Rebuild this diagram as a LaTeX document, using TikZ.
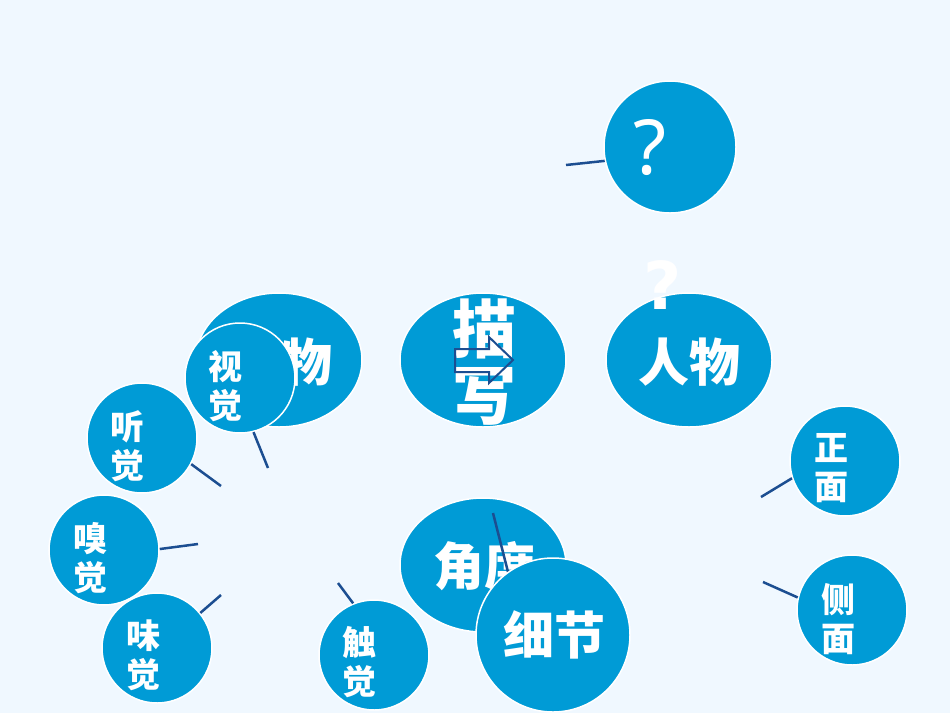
\documentclass[tikz,border=0pt]{standalone}
\usepackage{fontspec}
\usetikzlibrary{shapes.geometric}
\newfontfamily\cjk{Noto Sans CJK SC}
\newfontfamily\qfont{Noto Sans}
\newfontfamily\qbfont{DejaVu Sans}
\definecolor{bgc}{RGB}{240,248,255}
\definecolor{nodeblue}{RGB}{0,155,214}
\definecolor{linkblue}{RGB}{28,78,145}
\tikzset{
  bub/.style={circle, fill=nodeblue, draw=white, line width=1.5pt, inner sep=0pt, minimum size=#1},
  ell/.style={ellipse, fill=nodeblue, draw=white, line width=1.5pt, inner sep=0pt, minimum width=166pt, minimum height=134pt},
  lnk/.style={draw=linkblue, line width=2.5pt},
  vlbl/.style={text=white, inner sep=0pt, align=center, font=\cjk\bfseries\fontsize{34}{39}\selectfont},
  blbl/.style={text=white, inner sep=0pt, align=center, font=\cjk\bfseries\fontsize{#1}{#1}\selectfont},
}
\begin{document}
\begin{tikzpicture}[x=1pt,y=-1pt]
\fill[bgc] (0,0) rectangle (950,713);
\useasboundingbox (0,0) rectangle (950,713);

% question circle
\node[bub=132pt] (q) at (670,147) {};
\node[text=white, inner sep=0pt, font=\qfont\fontsize{76}{76}\selectfont] (qt) at (650,148) {?};
\coordinate (qf) at (566,165);
\draw[lnk] (qf) -- (q.192);

% 人物 right
\node[ell] (rw) at (689,360) {};
\node[blbl=51] (rwt) at (689,362) {人物};
\node[text=white, inner sep=0pt, font=\qbfont\bfseries\fontsize{66}{66}\selectfont] (bq) at (663,285) {?};

% 描写
\node[ell] (mx) at (483,360) {};
\node[text=white, inner sep=0pt, align=center, font=\cjk\bfseries\fontsize{64}{66}\selectfont] (mxt) at (484,362) {描\\写};
\draw[draw=linkblue, line width=2pt, line join=miter]
  (455,349) -- (489,349) -- (489,337) -- (513,360) -- (489,383) -- (489,372) -- (455,372) -- cycle;

% 人物 left (partially covered)
\node[ell] (lw) at (279,360) {};
\node[blbl=51] (lwt) at (307,362) {物};

% senses
\node[bub=110pt] (shi) at (240,378) {};
\node[vlbl] (shit) at ([shift={(-15,8)}]shi.center) {视\\觉};
\coordinate (shif) at (268,468);
\draw[lnk] (shi.-76) -- (shif);

\node[bub=110pt] (ting) at (142,438) {};
\node[vlbl] (tingt) at ([shift={(-15,8)}]ting.center) {听\\觉};
\coordinate (tingf) at (221,486);
\draw[lnk] (ting.-28) -- (tingf);

\node[bub=110pt] (xiu) at (104,550) {};
\node[vlbl] (xiut) at ([shift={(-14,8)}]xiu.center) {嗅\\觉};
\coordinate (xiuf) at (198,544);
\draw[lnk] (xiu.1) -- (xiuf);

\node[bub=110pt] (wei) at (157,648) {};
\node[vlbl] (weit) at ([shift={(-14,7)}]wei.center) {味\\觉};
\coordinate (weif) at (221,595);
\draw[lnk] (wei.39) -- (weif);

\node[bub=110pt] (chu) at (374,655) {};
\node[vlbl] (chut) at ([shift={(-15,7)}]chu.center) {触\\觉};
\coordinate (chuf) at (338,583);
\draw[lnk] (chu.112) -- (chuf);

% 角度 / 细节
\node[ell] (jd) at (483,565) {};
\node[blbl=51] (jdt) at (484,566) {角度};
\coordinate (jdf) at (493,513);
\coordinate (jdg) at (508,572);
\draw[lnk] (jdf) -- (jdg);
\node[bub=154pt] (xj) at (553,635) {};
\node[blbl=51] (xjt) at (554,635) {细节};

% 正面 / 侧面
\node[bub=110pt] (zm) at (845,461) {};
\node[vlbl] (zmt) at ([shift={(-14,7)}]zm.center) {正\\面};
\coordinate (zmf) at (761,497);
\draw[lnk] (zm.198) -- (zmf);

\node[bub=110pt] (cm) at (852,610) {};
\node[vlbl] (cmt) at ([shift={(-14,9)}]cm.center) {侧\\面};
\coordinate (cmf) at (763,582);
\draw[lnk] (cm.167) -- (cmf);
\end{tikzpicture}
\end{document}
